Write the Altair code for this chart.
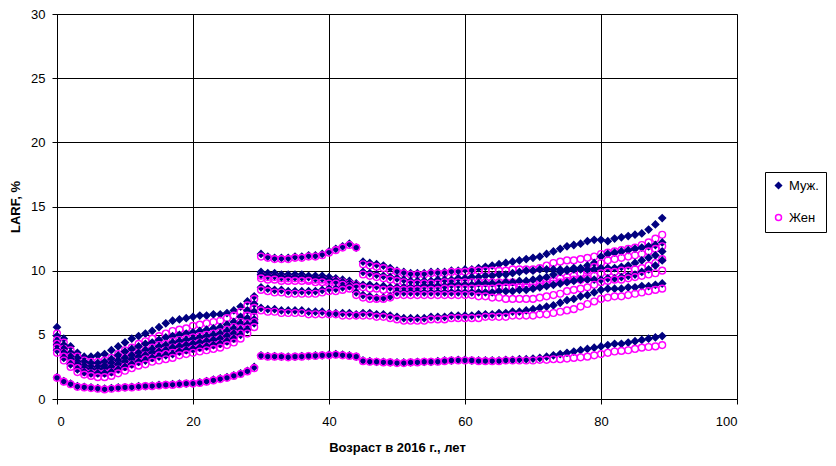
import altair as alt
import pandas as pd

ages = list(range(90))
sexes = ["Муж.", "Жен"]

m_A = [5.6, 4.7, 4.1, 3.6, 3.3, 3.3, 3.4, 3.5, 3.8, 4.1, 4.4, 4.7, 4.9, 5.1, 5.3, 5.6, 5.9, 6.1, 6.2, 6.3, 6.4, 6.5, 6.5, 6.6, 6.6, 6.7, 6.9, 7.2, 7.6, 8.0,
       11.3, 11.1, 11.0, 11.0, 11.0, 11.1, 11.1, 11.2, 11.2, 11.3, 11.5, 11.7, 11.9, 12.1, 11.8,
       10.7, 10.6, 10.5, 10.4, 10.2, 10.0, 9.9, 9.8, 9.8, 9.8, 9.9, 9.9, 9.9, 10.0, 10.0,
       10.1, 10.1, 10.2, 10.3, 10.4, 10.5, 10.6, 10.7, 10.8, 10.9, 11.0, 11.1, 11.3, 11.5, 11.7,
       11.9, 12.0, 12.1, 12.3, 12.4, 12.4, 12.3, 12.5, 12.6, 12.7, 12.8, 12.9, 13.2, 13.6, 14.1]
m_B = [4.9, 4.2, 3.6, 3.2, 2.9, 2.8, 2.8, 2.9, 3.1, 3.4, 3.7, 3.9, 4.1, 4.3, 4.4, 4.6, 4.8, 4.9, 5.0, 5.1, 5.2, 5.3, 5.4, 5.5, 5.6, 5.8, 6.0, 6.4, 6.9, 7.4,
       9.9, 9.8, 9.8, 9.7, 9.7, 9.7, 9.7, 9.6, 9.6, 9.6, 9.5, 9.4, 9.3, 9.2, 9.0,
       9.9, 9.8, 9.7, 9.6, 9.5, 9.4, 9.3, 9.2, 9.2, 9.2, 9.2, 9.3, 9.3, 9.3, 9.4,
       9.4, 9.5, 9.5, 9.6, 9.6, 9.7, 9.7, 9.8, 9.9, 10.0, 10.0, 10.1, 10.1, 10.1, 10.1,
       10.1, 10.2, 10.2, 10.4, 10.6, 11.1, 11.3, 11.4, 11.5, 11.6, 11.7, 11.8, 11.9, 12.0, 12.2]
m_C = [4.5, 3.9, 3.3, 2.9, 2.6, 2.5, 2.5, 2.6, 2.8, 3.0, 3.2, 3.4, 3.6, 3.8, 3.9, 4.1, 4.2, 4.4, 4.5, 4.6, 4.7, 4.8, 4.9, 5.0, 5.1, 5.3, 5.5, 5.9, 6.3, 6.8,
       9.7, 9.6, 9.6, 9.5, 9.5, 9.5, 9.5, 9.5, 9.4, 9.4, 9.3, 9.2, 9.1, 9.0, 8.9,
       8.9, 8.9, 8.8, 8.8, 8.7, 8.7, 8.7, 8.7, 8.7, 8.8, 8.8, 8.8, 8.8, 8.9, 8.9,
       8.9, 8.9, 9.0, 9.0, 9.0, 9.0, 9.1, 9.1, 9.2, 9.2, 9.3, 9.4, 9.5, 9.7, 9.9,
       10.0, 10.1, 10.1, 10.1, 10.1, 10.2, 10.2, 10.2, 10.3, 10.4, 10.6, 10.8, 11.0, 11.2, 11.5]
m_D = [4.2, 3.6, 3.1, 2.7, 2.4, 2.3, 2.3, 2.4, 2.5, 2.7, 2.9, 3.1, 3.3, 3.4, 3.6, 3.7, 3.8, 4.0, 4.1, 4.2, 4.3, 4.4, 4.5, 4.6, 4.7, 4.9, 5.1, 5.4, 5.8, 6.2,
       8.7, 8.6, 8.5, 8.5, 8.4, 8.4, 8.4, 8.4, 8.4, 8.5, 8.6, 8.6, 8.7, 8.8, 8.3,
       8.1, 8.0, 7.9, 7.9, 8.0, 8.3, 8.3, 8.3, 8.3, 8.3, 8.3, 8.3, 8.3, 8.3, 8.3,
       8.3, 8.3, 8.3, 8.3, 8.3, 8.4, 8.4, 8.4, 8.5, 8.5, 8.6, 8.7, 8.8, 8.9, 9.0,
       9.1, 9.2, 9.3, 9.3, 9.3, 9.3, 9.4, 9.4, 9.5, 9.6, 9.7, 9.9, 10.1, 10.4, 10.8]
m_E = [3.8, 3.2, 2.7, 2.3, 2.1, 2.0, 2.0, 2.0, 2.1, 2.3, 2.5, 2.7, 2.9, 3.0, 3.2, 3.3, 3.4, 3.5, 3.7, 3.8, 3.9, 4.0, 4.1, 4.2, 4.3, 4.5, 4.7, 5.0, 5.4, 5.9,
       7.1, 7.0, 7.0, 6.9, 6.9, 6.9, 6.9, 6.8, 6.8, 6.8, 6.7, 6.7, 6.7, 6.7, 6.6,
       6.7, 6.7, 6.6, 6.6, 6.5, 6.4, 6.3, 6.3, 6.3, 6.3, 6.4, 6.4, 6.4, 6.5, 6.5,
       6.5, 6.5, 6.6, 6.6, 6.6, 6.7, 6.7, 6.8, 6.8, 6.9, 7.0, 7.1, 7.2, 7.3, 7.5,
       7.7, 7.8, 8.0, 8.1, 8.3, 8.5, 8.6, 8.6, 8.6, 8.7, 8.7, 8.8, 8.8, 8.9, 9.0]
m_F = [1.7, 1.4, 1.2, 1.0, 0.95, 0.9, 0.85, 0.8, 0.85, 0.9, 0.9, 0.95, 1.0, 1.0, 1.05, 1.1, 1.1, 1.15, 1.2, 1.2, 1.25, 1.3, 1.4, 1.5, 1.6, 1.7, 1.85, 2.0, 2.2, 2.5,
       3.4, 3.35, 3.35, 3.3, 3.3, 3.3, 3.35, 3.35, 3.4, 3.4, 3.45, 3.5, 3.45, 3.4, 3.3,
       3.0, 2.95, 2.9, 2.9, 2.85, 2.85, 2.85, 2.85, 2.9, 2.9, 2.9, 2.95, 3.0, 3.0, 3.05,
       3.05, 3.0, 3.0, 3.0, 3.0, 3.0, 3.05, 3.05, 3.1, 3.1, 3.15, 3.2, 3.3, 3.4, 3.5,
       3.6, 3.7, 3.8, 3.9, 4.0, 4.1, 4.2, 4.3, 4.3, 4.4, 4.5, 4.6, 4.7, 4.8, 4.9]

f_A = [5.1, 4.4, 3.8, 3.3, 3.0, 2.9, 2.9, 3.0, 3.2, 3.5, 3.8, 4.0, 4.3, 4.5, 4.7, 4.9, 5.1, 5.3, 5.4, 5.5, 5.7, 5.8, 5.9, 6.0, 6.1, 6.3, 6.5, 6.8, 7.3, 7.8,
       11.1, 11.0, 10.9, 10.9, 10.9, 11.0, 11.0, 11.1, 11.1, 11.2, 11.4, 11.6, 11.8, 12.0, 11.8,
       10.5, 10.4, 10.3, 10.2, 10.0, 9.9, 9.8, 9.7, 9.7, 9.7, 9.8, 9.8, 9.8, 9.9, 9.9,
       9.9, 10.0, 10.0, 10.0, 10.0, 10.0, 10.0, 10.1, 10.1, 10.1, 10.1, 10.2, 10.4, 10.6, 10.7,
       10.8, 10.8, 10.9, 11.0, 11.1, 11.3, 11.4, 11.5, 11.6, 11.7, 11.8, 12.0, 12.2, 12.5, 12.8]
f_B = [4.6, 3.9, 3.3, 2.8, 2.5, 2.4, 2.4, 2.5, 2.7, 2.9, 3.2, 3.4, 3.6, 3.8, 4.0, 4.2, 4.3, 4.5, 4.6, 4.7, 4.8, 4.9, 5.0, 5.1, 5.2, 5.4, 5.6, 6.0, 6.5, 7.1,
       9.6, 9.5, 9.5, 9.4, 9.4, 9.4, 9.4, 9.3, 9.3, 9.3, 9.2, 9.2, 9.1, 9.0, 8.9,
       9.7, 9.6, 9.5, 9.4, 9.3, 9.2, 9.1, 9.0, 9.0, 9.0, 9.0, 9.0, 9.1, 9.1, 9.1,
       9.1, 9.1, 9.1, 9.1, 9.1, 9.1, 9.1, 9.1, 9.0, 9.0, 9.0, 9.0, 9.1, 9.2, 9.4,
       9.5, 9.6, 9.8, 10.0, 10.3, 10.6, 10.8, 10.9, 11.0, 11.1, 11.2, 11.3, 11.5, 11.7, 11.9]
f_C = [4.3, 3.6, 3.0, 2.6, 2.3, 2.2, 2.2, 2.2, 2.4, 2.6, 2.8, 3.0, 3.2, 3.4, 3.5, 3.7, 3.8, 4.0, 4.1, 4.2, 4.3, 4.4, 4.5, 4.6, 4.7, 4.9, 5.1, 5.5, 5.9, 6.4,
       9.4, 9.3, 9.3, 9.2, 9.2, 9.2, 9.2, 9.2, 9.1, 9.1, 9.0, 9.0, 8.9, 8.8, 8.7,
       8.7, 8.6, 8.6, 8.5, 8.5, 8.5, 8.5, 8.5, 8.5, 8.5, 8.5, 8.5, 8.6, 8.6, 8.6,
       8.6, 8.6, 8.6, 8.6, 8.6, 8.7, 8.7, 8.7, 8.7, 8.7, 8.7, 8.8, 8.9, 9.0, 9.1,
       9.2, 9.3, 9.3, 9.4, 9.6, 9.8, 9.9, 9.9, 10.0, 10.0, 10.1, 10.2, 10.4, 10.6, 10.9]
f_D = [4.0, 3.3, 2.8, 2.4, 2.1, 2.0, 2.0, 2.0, 2.1, 2.3, 2.5, 2.7, 2.9, 3.1, 3.2, 3.4, 3.5, 3.6, 3.7, 3.8, 3.9, 4.0, 4.1, 4.2, 4.3, 4.5, 4.7, 5.1, 5.5, 6.0,
       8.5, 8.4, 8.3, 8.3, 8.2, 8.2, 8.2, 8.2, 8.2, 8.3, 8.4, 8.4, 8.5, 8.6, 8.1,
       7.9, 7.8, 7.8, 7.8, 7.9, 8.1, 8.1, 8.1, 8.1, 8.1, 8.1, 8.1, 8.1, 8.1, 8.1,
       8.1, 8.1, 8.0, 8.0, 7.9, 7.9, 7.8, 7.8, 7.8, 7.8, 7.8, 7.9, 8.0, 8.1, 8.2,
       8.4, 8.5, 8.6, 8.7, 8.9, 9.1, 9.2, 9.3, 9.3, 9.4, 9.5, 9.6, 9.7, 9.8, 10.0]
f_E = [3.6, 3.0, 2.5, 2.1, 1.9, 1.8, 1.7, 1.7, 1.8, 2.0, 2.2, 2.4, 2.6, 2.7, 2.9, 3.0, 3.1, 3.2, 3.4, 3.5, 3.6, 3.7, 3.8, 3.9, 4.0, 4.2, 4.4, 4.7, 5.1, 5.6,
       6.9, 6.8, 6.8, 6.7, 6.7, 6.7, 6.7, 6.6, 6.6, 6.6, 6.6, 6.6, 6.5, 6.5, 6.5,
       6.5, 6.5, 6.4, 6.4, 6.3, 6.2, 6.1, 6.1, 6.1, 6.1, 6.2, 6.2, 6.2, 6.3, 6.3,
       6.3, 6.3, 6.3, 6.4, 6.4, 6.4, 6.4, 6.5, 6.5, 6.5, 6.5, 6.6, 6.6, 6.7, 6.8,
       6.9, 7.0, 7.2, 7.4, 7.6, 7.8, 7.9, 8.0, 8.0, 8.1, 8.2, 8.3, 8.4, 8.5, 8.6]
f_F = [1.65, 1.35, 1.15, 0.95, 0.9, 0.85, 0.8, 0.75, 0.8, 0.85, 0.9, 0.9, 0.95, 1.0, 1.0, 1.05, 1.1, 1.1, 1.15, 1.2, 1.2, 1.25, 1.35, 1.45, 1.55, 1.65, 1.8, 1.95, 2.15, 2.4,
       3.35, 3.3, 3.3, 3.3, 3.25, 3.3, 3.3, 3.35, 3.35, 3.4, 3.4, 3.45, 3.4, 3.35, 3.3,
       2.95, 2.9, 2.9, 2.85, 2.85, 2.8, 2.8, 2.85, 2.85, 2.9, 2.9, 2.9, 2.95, 3.0, 3.0,
       3.0, 3.0, 2.95, 2.95, 2.95, 2.95, 3.0, 3.0, 3.0, 3.0, 3.0, 3.05, 3.05, 3.1, 3.1,
       3.15, 3.2, 3.25, 3.3, 3.4, 3.5, 3.6, 3.7, 3.75, 3.8, 3.9, 4.0, 4.05, 4.1, 4.2]

male_curves = [m_A, m_B, m_C, m_D, m_E, m_F]
female_curves = [f_A, f_B, f_C, f_D, f_E, f_F]

rows = []
for sex, curves in zip(sexes, [male_curves, female_curves]):
    for ci, curve in enumerate(curves):
        for a, v in zip(ages, curve):
            rows.append({"sex": sex, "curve": ci, "age": a, "larf": v})
df = pd.DataFrame(rows)

FONT = "Liberation Sans"

chart = alt.Chart(df).mark_point(strokeWidth=1.4, size=46, opacity=1).encode(
    x=alt.X("age:Q", title="Возраст в 2016 г., лет",
            scale=alt.Scale(domain=[0, 100], nice=False),
            axis=alt.Axis(values=[0, 20, 40, 60, 80, 100], grid=True)),
    y=alt.Y("larf:Q", title="LARF, %",
            scale=alt.Scale(domain=[0, 30], nice=False),
            axis=alt.Axis(values=[0, 5, 10, 15, 20, 25, 30], grid=True)),
    shape=alt.Shape("sex:N", title=None,
                    scale=alt.Scale(domain=sexes, range=["diamond", "circle"])),
    stroke=alt.Stroke("sex:N", title=None,
                      scale=alt.Scale(domain=sexes, range=["#000080", "#FF00FF"])),
    fill=alt.Fill("sex:N", title=None,
                  scale=alt.Scale(domain=sexes, range=["#000080", "transparent"])),
    order=alt.Order("curve:Q"),
).properties(
    width=680, height=385,
    autosize=alt.AutoSizeParams(type="none"),
    padding={"left": 49, "top": 6, "right": 91, "bottom": 58},
).configure_view(
    stroke="#808080", strokeWidth=1, fill="white"
).configure_axis(
    gridColor="black", gridOpacity=1, gridWidth=1,
    domainColor="black", domainWidth=1,
    tickColor="black", tickSize=5,
    labelFont=FONT, labelFontSize=13, labelColor="black",
    titleFont=FONT, titleFontSize=13, titleFontWeight="bold", titleColor="black",
).configure_axisX(
    labelPadding=11, titlePadding=13,
).configure_axisY(
    labelPadding=7, titlePadding=8,
).configure_legend(
    orient="none", legendX=708, legendY=158,
    strokeColor="black", padding=7, rowPadding=18,
    labelFont=FONT, labelFontSize=13, labelColor="black",
    symbolSize=36, symbolStrokeWidth=1.5, labelLimit=60,
)

chart.save("out.html", embed_options={"renderer": "svg", "actions": False})
